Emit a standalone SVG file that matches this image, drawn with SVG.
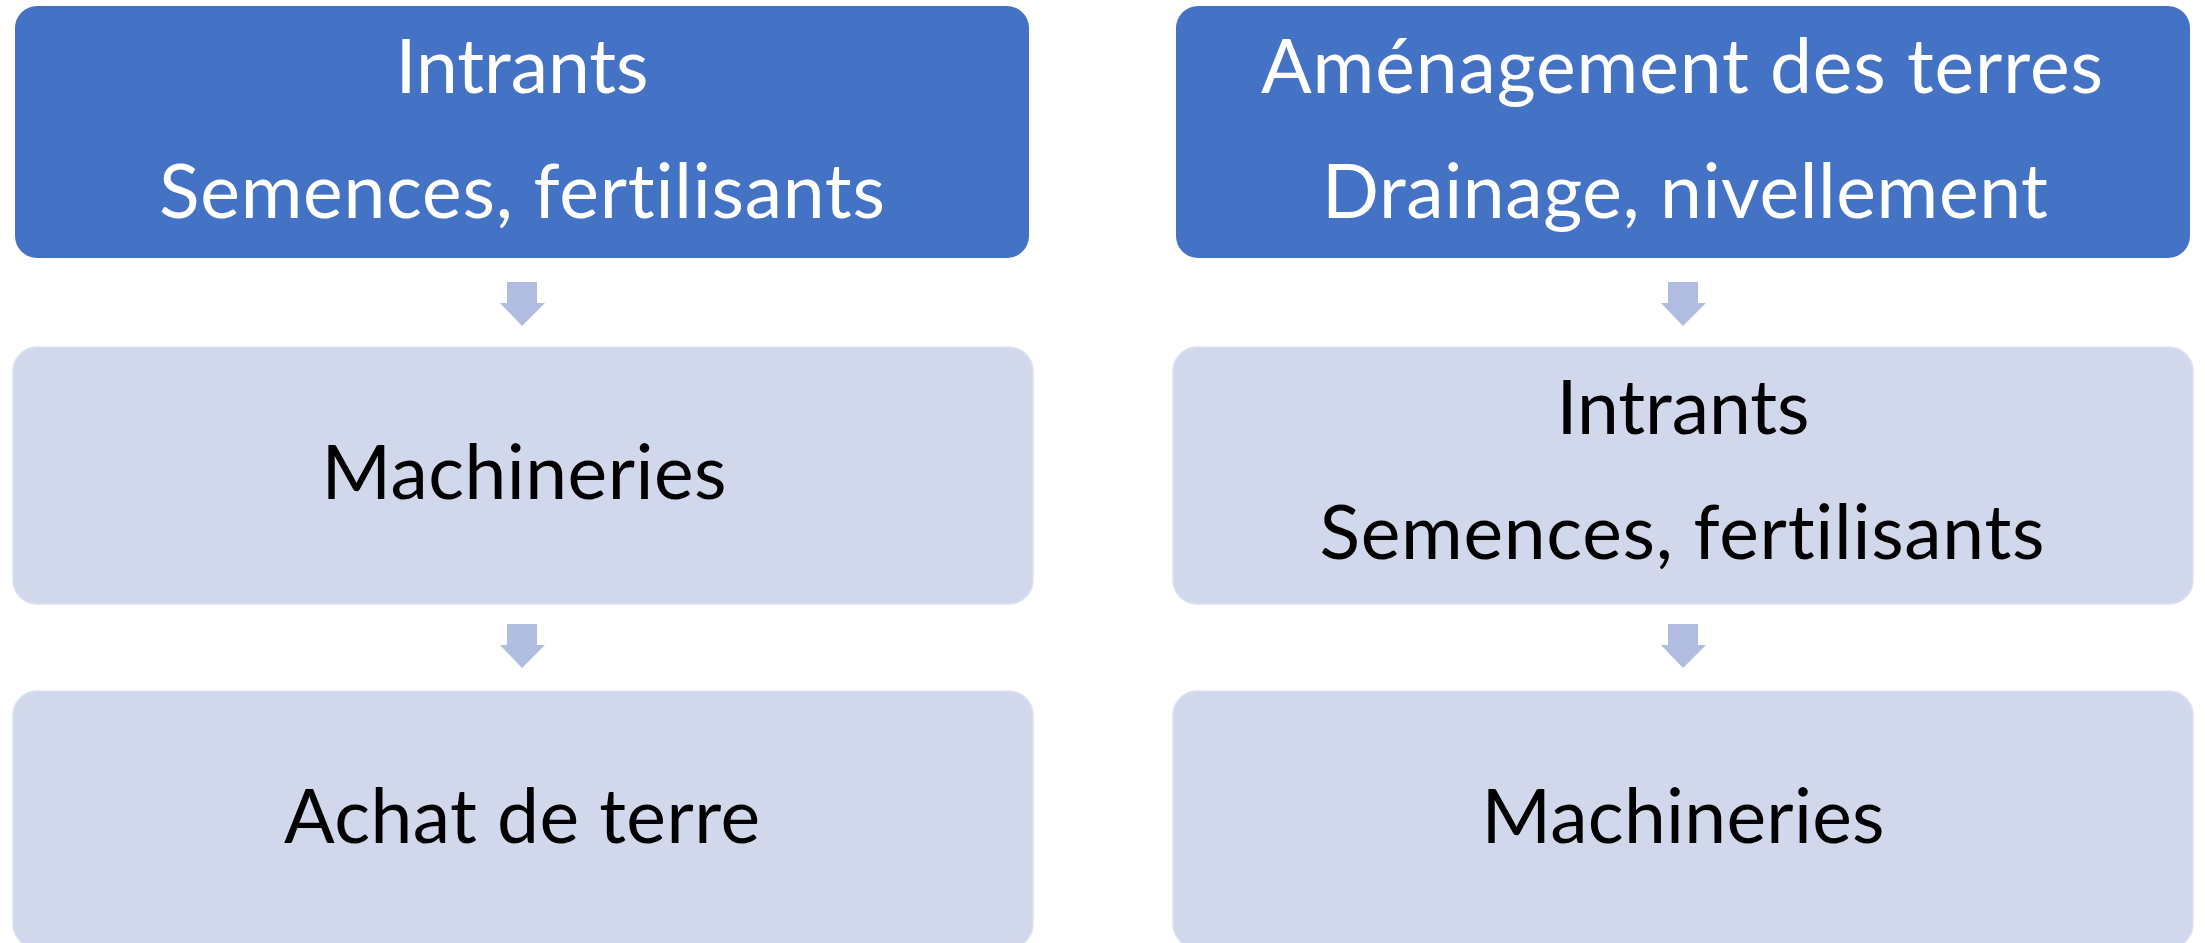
<svg xmlns="http://www.w3.org/2000/svg" width="2205" height="943" viewBox="0 0 2205 943">
<style>
.dark{fill:#4472C4;}
.light{fill:#D1D8EB;stroke:#DCE2F0;stroke-width:1.5;}
.arrow{fill:#B0BDE0;}
text{font-family:Lato,"Open Sans","Liberation Sans",sans-serif;font-size:75px;text-anchor:middle;font-variant-ligatures:none;font-feature-settings:"liga" 0;}
.w{fill:#FFFFFF;}
.b{fill:#000000;}
</style>
<rect x="0" y="0" width="2205" height="943" fill="#FFFFFF"/>
<g id="connectors">
<path class="arrow" d="M507 282 H537 V303 H545 L522 326 L500 303 H507 Z"/>
<path class="arrow" d="M507 624 H537 V645 H545 L522 668 L500 645 H507 Z"/>
<path class="arrow" d="M1668 282 H1698 V303 H1706 L1683 326 L1661 303 H1668 Z"/>
<path class="arrow" d="M1668 624 H1698 V645 H1706 L1683 668 L1661 645 H1668 Z"/>
</g>
<g id="node-left-1">
<rect class="dark" x="15" y="6" width="1014" height="252" rx="22"/>
<text class="w" x="522" y="93" textLength="253">Intrants</text>
<text class="w" x="522" y="218" textLength="726">Semences, fertilisants</text>
</g>
<g id="node-left-2">
<rect class="light" x="13" y="347" width="1020" height="257" rx="24"/>
<text class="b" x="524" y="499" textLength="405">Machineries</text>
</g>
<g id="node-left-3">
<rect class="light" x="13" y="691" width="1020" height="257" rx="24"/>
<text class="b" x="522" y="843" textLength="476">Achat de terre</text>
</g>
<g id="node-right-1">
<rect class="dark" x="1176" y="6" width="1014" height="252" rx="22"/>
<text class="w" x="1682" y="93" textLength="842">Aménagement des terres</text>
<text class="w" x="1685" y="218" textLength="726">Drainage, nivellement</text>
</g>
<g id="node-right-2">
<rect class="light" x="1173" y="347" width="1020" height="257" rx="24"/>
<text class="b" x="1683" y="434" textLength="253">Intrants</text>
<text class="b" x="1682" y="559" textLength="725">Semences, fertilisants</text>
</g>
<g id="node-right-3">
<rect class="light" x="1173" y="691" width="1020" height="257" rx="24"/>
<text class="b" x="1683" y="843" textLength="403">Machineries</text>
</g>
</svg>
